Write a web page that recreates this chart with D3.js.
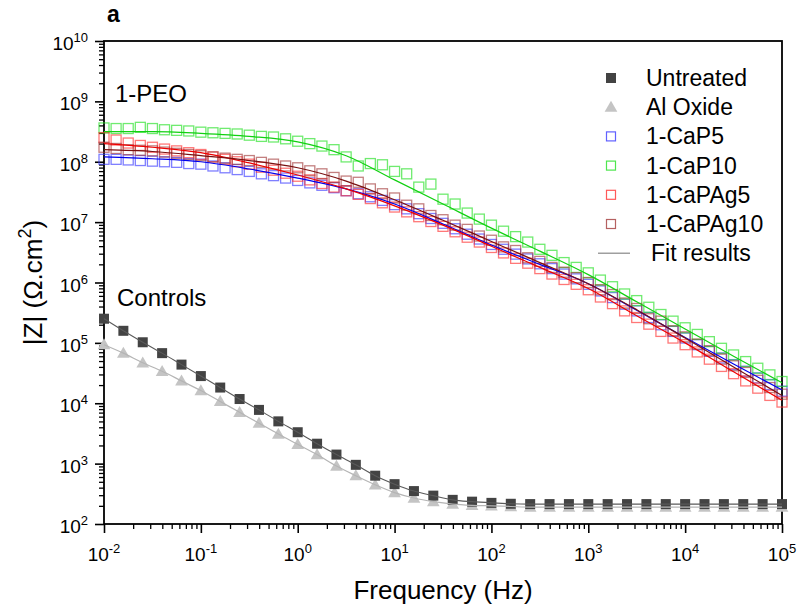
<!DOCTYPE html>
<html><head><meta charset="utf-8">
<script src="https://cdn.jsdelivr.net/npm/d3@7"></script>
<style>
body{margin:0;background:#fff;}
svg{display:block;font-family:"Liberation Sans",Arial,sans-serif;}
</style></head>
<body>
<svg id="chart" width="800" height="609"></svg>
<script>
// ---------- DATA (exponents of 10) ----------
const peoFreqExp = [-2,-1.875,-1.75,-1.625,-1.5,-1.375,-1.25,-1.125,-1,-0.875,-0.75,-0.625,-0.5,-0.375,-0.25,-0.125,0,0.125,0.25,0.375,0.5,0.625,0.75,0.875,1,1.125,1.25,1.375,1.5,1.625,1.75,1.875,2,2.125,2.25,2.375,2.5,2.625,2.75,2.875,3,3.125,3.25,3.375,3.5,3.625,3.75,3.875,4,4.125,4.25,4.375,4.5,4.625,4.75,4.875,5];
const ctrlFreqExp = [-2,-1.8,-1.6,-1.4,-1.2,-1,-0.8,-0.6,-0.4,-0.2,0,0.2,0.4,0.6,0.8,1,1.2,1.4,1.6,1.8,2,2.2,2.4,2.6,2.8,3,3.2,3.4,3.6,3.8,4,4.2,4.4,4.6,4.8,5];
const fitFreqExp = [-2,-1.5,-1,-0.5,0,0.5,1,1.5,2,2.5,3,3.5,4,4.5,5];

const untreatedExp = [5.40,5.20,5.01,4.83,4.64,4.45,4.26,4.07,3.89,3.70,3.52,3.33,3.15,2.98,2.80,2.66,2.545,2.47,2.40,2.37,2.35,2.335,2.33,2.33,2.33,2.33,2.33,2.33,2.33,2.33,2.33,2.33,2.33,2.33,2.33,2.33];
const alOxideExp = [4.97,4.83,4.67,4.53,4.37,4.21,4.03,3.85,3.67,3.49,3.32,3.15,2.96,2.80,2.65,2.52,2.43,2.37,2.33,2.31,2.30,2.29,2.28,2.28,2.28,2.28,2.28,2.28,2.28,2.28,2.28,2.28,2.28,2.28,2.28,2.28];

const caP5Exp = [8.04,8.04,8.03,8.02,8.01,8.00,7.99,7.97, 7.96,7.93,7.90,7.87,7.84,7.80,7.77,7.73, 7.69,7.65,7.61,7.57,7.52,7.47,7.42,7.36, 7.29,7.22,7.14,7.06,6.98,6.89,6.80,6.72, 6.63,6.55,6.47,6.39,6.31,6.23,6.14,6.06, 5.97,5.86,5.75,5.64,5.53,5.42,5.30,5.19, 5.08,4.97,4.86,4.75,4.64,4.53,4.42,4.31, 4.20];
const caP10Exp = [8.56,8.55,8.55,8.57,8.55,8.53,8.52,8.51, 8.49,8.48,8.47,8.46,8.44,8.42,8.41,8.38, 8.34,8.30,8.26,8.20,8.08,7.93,7.97,7.95, 7.84,7.80,7.58,7.63,7.38,7.30,7.15,7.05, 6.95,6.85,6.76,6.67,6.55,6.45,6.33,6.25, 6.16,6.04,5.93,5.81,5.70,5.59,5.47,5.36, 5.25,5.14,5.02,4.91,4.80,4.69,4.58,4.47, 4.36];
const caPAg5Exp = [8.40,8.36,8.31,8.27,8.24,8.21,8.18,8.15, 8.12,8.08,8.04,8.00,7.96,7.91,7.86,7.81, 7.76,7.70,7.64,7.58,7.52,7.46,7.39,7.32, 7.25,7.17,7.09,7.01,6.93,6.84,6.75,6.67, 6.58,6.49,6.40,6.32,6.23,6.14,6.05,5.97, 5.88,5.76,5.65,5.53,5.42,5.31,5.19,5.08, 4.97,4.85,4.73,4.61,4.49,4.37,4.25,4.13, 4.02];
const caPAg10Exp = [8.24,8.22,8.20,8.19,8.18,8.16,8.14,8.12, 8.10,8.08,8.06,8.04,8.02,7.99,7.96,7.93, 7.90,7.85,7.80,7.74,7.68,7.66,7.55,7.47, 7.40,7.28,7.22,7.11,7.04,6.95,6.88,6.77, 6.70,6.59,6.53,6.41,6.35,6.25,6.17,6.08, 6.00,5.88,5.80,5.66,5.57,5.40,5.36,5.20, 5.10,4.98,4.87,4.73,4.62,4.51,4.38,4.26, 4.15];

const fitCaP5Exp = [8.08,8.05,8.00,7.88,7.73,7.55,7.30,6.97,6.62,6.30,5.98,5.54,5.09,4.65,4.22];
const fitCaP10Exp = [8.50,8.50,8.47,8.42,8.33,8.10,7.70,7.30,6.90,6.52,6.13,5.68,5.23,4.78,4.34];
const fitCaPAg5Exp = [8.30,8.24,8.15,7.98,7.78,7.55,7.27,6.95,6.60,6.25,5.90,5.45,5.00,4.52,4.05];
const fitCaPAg10Exp = [8.20,8.17,8.10,8.02,7.90,7.68,7.37,7.03,6.68,6.33,5.98,5.55,5.08,4.60,4.13];

const xTickExp = [-2,-1,0,1,2,3,4,5];
const yTickExp = [2,3,4,5,6,7,8,9,10];
const legendLabels = ["Untreated","Al Oxide","1-CaP5","1-CaP10","1-CaPAg5","1-CaPAg10","Fit results"];

// ---------- SETUP ----------
const svg = d3.select("#chart");
const L = 104, R = 782, T = 41, B = 524;
const x = d3.scaleLog().domain([1e-2, 1e5]).range([L, R]);
const y = d3.scaleLog().domain([1e2, 1e10]).range([B, T]);
const p = e => Math.pow(10, e);
const FONT = "'Liberation Sans',Arial,sans-serif";

// ---------- AXES ----------
const minorVals = (lo, hi) => { const v = []; for (let d = lo; d < hi; d++) for (let k = 2; k <= 9; k++) v.push(k * p(d)); return v; };

svg.append("g").attr("transform", `translate(0,${B})`)
  .call(d3.axisBottom(x).tickValues(xTickExp.map(p)).tickFormat("").tickSize(9).tickSizeOuter(0))
  .call(g => g.select(".domain").remove())
  .selectAll("line").attr("stroke", "#000").attr("stroke-width", 1.6);
svg.append("g").attr("transform", `translate(0,${B})`)
  .call(d3.axisBottom(x).tickValues(minorVals(-2, 5)).tickFormat("").tickSize(5).tickSizeOuter(0))
  .call(g => g.select(".domain").remove())
  .selectAll("line").attr("stroke", "#000").attr("stroke-width", 1.3);
svg.append("g").attr("transform", `translate(${L},0)`)
  .call(d3.axisLeft(y).tickValues(yTickExp.map(p)).tickFormat("").tickSize(9).tickSizeOuter(0))
  .call(g => g.select(".domain").remove())
  .selectAll("line").attr("stroke", "#000").attr("stroke-width", 1.6);
svg.append("g").attr("transform", `translate(${L},0)`)
  .call(d3.axisLeft(y).tickValues(minorVals(2, 10)).tickFormat("").tickSize(5).tickSizeOuter(0))
  .call(g => g.select(".domain").remove())
  .selectAll("line").attr("stroke", "#000").attr("stroke-width", 1.3);

// frame
svg.append("rect").attr("x", L).attr("y", T).attr("width", R - L).attr("height", B - T)
  .attr("fill", "none").attr("stroke", "#000").attr("stroke-width", 1.8);

// tick labels
xTickExp.forEach(e => {
  const t = svg.append("text").attr("x", x(p(e))).attr("y", 561).attr("text-anchor", "middle")
    .attr("font-size", 19).attr("fill", "#000").style("font-family", FONT);
  t.append("tspan").text("10");
  t.append("tspan").attr("font-size", 13).attr("dy", -8).text(e < 0 ? "-" + (-e) : e);
});
yTickExp.forEach(e => {
  const t = svg.append("text").attr("x", 88).attr("y", y(p(e)) + 9).attr("text-anchor", "end")
    .attr("font-size", 19).attr("fill", "#000").style("font-family", FONT);
  t.append("tspan").text("10");
  t.append("tspan").attr("font-size", 13).attr("dy", -8).text(e);
});

// axis titles
svg.append("text").attr("x", (L + R) / 2).attr("y", 599).attr("text-anchor", "middle")
  .attr("font-size", 26).style("font-family", FONT).text("Frequency (Hz)");
const yt = svg.append("text").attr("transform", `translate(42,${(T + B) / 2}) rotate(-90)`)
  .attr("text-anchor", "middle").attr("font-size", 26).style("font-family", FONT);
yt.append("tspan").text("|Z| (\u03A9.cm");
yt.append("tspan").attr("font-size", 18).attr("dy", -11).text("2");
yt.append("tspan").attr("dy", 11).text(")");

svg.append("text").attr("x", 107).attr("y", 22).attr("font-size", 23).attr("font-weight", "bold")
  .style("font-family", FONT).text("a");
svg.append("text").attr("x", 115).attr("y", 102).attr("font-size", 24).style("font-family", FONT).text("1-PEO");
svg.append("text").attr("x", 117).attr("y", 306).attr("font-size", 24).style("font-family", FONT).text("Controls");

// ---------- DATA MARKS ----------
const plot = svg.append("g");
const lineGen = d3.line().x(d => x(p(d[0]))).y(d => y(p(d[1]))).curve(d3.curveMonotoneX);
const zip = (a, b) => a.map((v, i) => [v, b[i]]);

const peoSeries = [
  {vals: caP5Exp,   fit: fitCaP5Exp,   mk: "#3a3aff", ln: "#0000ee"},
  {vals: caP10Exp,  fit: fitCaP10Exp,  mk: "#22e022", ln: "#11d011"},
  {vals: caPAg5Exp, fit: fitCaPAg5Exp, mk: "#ff3030", ln: "#ee0000"},
  {vals: caPAg10Exp,fit: fitCaPAg10Exp,mk: "#a33a3a", ln: "#7a1010"}
];
const S = 10;
peoSeries.forEach(s => {
  plot.append("g").selectAll("rect").data(zip(peoFreqExp, s.vals)).join("rect")
    .attr("x", d => x(p(d[0])) - S / 2).attr("y", d => y(p(d[1])) - S / 2)
    .attr("width", S).attr("height", S).attr("fill", "none")
    .attr("stroke", s.mk).attr("stroke-width", 1.3).attr("stroke-opacity", 0.65);
});

// controls markers
const tri = d3.symbol().type(d3.symbolTriangle).size(70);
plot.append("g").selectAll("path").data(zip(ctrlFreqExp, alOxideExp)).join("path")
  .attr("d", tri).attr("transform", d => `translate(${x(p(d[0]))},${y(p(d[1])) + 1})`)
  .attr("fill", "#c4c4c4");
plot.append("g").selectAll("rect").data(zip(ctrlFreqExp, untreatedExp)).join("rect")
  .attr("x", d => x(p(d[0])) - 5).attr("y", d => y(p(d[1])) - 5)
  .attr("width", 10).attr("height", 10).attr("fill", "#434343");

// fit lines
plot.append("path").datum(zip(ctrlFreqExp, alOxideExp)).attr("d", lineGen)
  .attr("fill", "none").attr("stroke", "#b5b5b5").attr("stroke-width", 1.2);
plot.append("path").datum(zip(ctrlFreqExp, untreatedExp)).attr("d", lineGen)
  .attr("fill", "none").attr("stroke", "#5a5a5a").attr("stroke-width", 1.1);
peoSeries.forEach(s => {
  plot.append("path").datum(zip(fitFreqExp, s.fit)).attr("d", lineGen)
    .attr("fill", "none").attr("stroke", s.ln).attr("stroke-width", 1.2);
});

// ---------- LEGEND ----------
const lg = svg.append("g");
const ly0 = 78, lstep = 29.2, lsx = 611;
legendLabels.forEach((lab, i) => {
  const cy = ly0 + i * lstep;
  lg.append("text").attr("x", i === 6 ? 651 : 646).attr("y", cy + 8).attr("font-size", 23)
    .style("font-family", FONT).text(lab);
});
lg.append("rect").attr("x", lsx - 5).attr("y", ly0 - 5).attr("width", 10).attr("height", 10).attr("fill", "#434343");
lg.append("path").attr("d", tri).attr("transform", `translate(${lsx},${ly0 + lstep + 1})`).attr("fill", "#c4c4c4");
peoSeries.forEach((s, i) => {
  lg.append("rect").attr("x", lsx - 4.5).attr("y", ly0 + (i + 2) * lstep - 4.5).attr("width", 9).attr("height", 9)
    .attr("fill", "none").attr("stroke", s.mk).attr("stroke-width", 1.2).attr("stroke-opacity", 0.8);
});
lg.append("line").attr("x1", 598).attr("x2", 630).attr("y1", ly0 + 6 * lstep).attr("y2", ly0 + 6 * lstep)
  .attr("stroke", "#888").attr("stroke-width", 1.2);
</script>
</body></html>
